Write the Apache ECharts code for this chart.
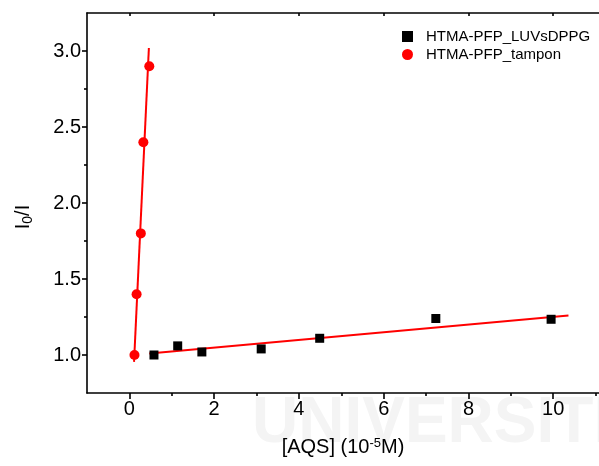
<!DOCTYPE html>
<html><head><meta charset="utf-8">
<script src="https://cdn.jsdelivr.net/npm/echarts@6/dist/echarts.min.js"></script>
<style>html,body{margin:0;padding:0;background:#fff}#c{width:599px;height:466px}</style>
</head><body><div id="c"></div>
<script>
const luvName = 'HTMA-PFP_LUVsDPPG';
const tamponName = 'HTMA-PFP_tampon';
const luvX = [0.58, 1.14, 1.71, 3.11, 4.49, 7.23, 9.95];
const luvY = [1.00, 1.06, 1.02, 1.04, 1.11, 1.24, 1.235];
const tamponX = [0.12, 0.17, 0.27, 0.33, 0.47];
const tamponY = [1.00, 1.40, 1.80, 2.40, 2.90];
const luvFitX = [0.47, 10.36];
const luvFitY = [1.01, 1.26];
const tamponFitX = [0.11, 0.46];
const tamponFitY = [0.955, 3.02];
const xMajorTicks = [0, 2, 4, 6, 8, 10];
const xMinorTicks = [1, 3, 5, 7, 9, 11];
const yMajorTicks = [1.0, 1.5, 2.0, 2.5, 3.0];
const yMinorTicks = [1.25, 1.75, 2.25, 2.75];

const zip = (xs, ys) => xs.map((x, i) => [x, ys[i]]);
const FONT = 'Liberation Sans, Arial, sans-serif';
const chart = echarts.init(document.getElementById('c'), null, {renderer: 'canvas'});
const X_MIN = -1, X_MAX = 11.08, Y_MIN = 0.75, Y_MAX = 3.25;
const lineStyle = {color: '#000', width: 1.6};

chart.setOption({
  animation: false,
  backgroundColor: '#fff',
  textStyle: {fontFamily: FONT},
  graphic: [{
    type: 'text', left: 252, top: 392, z: -10, silent: true,
    style: {text: 'UNIVERSITI', font: 'bold 64px Liberation Sans, Arial, sans-serif', fill: '#f4f4f4'}
  }],
  grid: {left: 87, top: 13, right: 0, bottom: 73, containLabel: false},
  legend: {
    orient: 'vertical', left: 397, top: 24, itemGap: 3,
    itemWidth: 11, itemHeight: 11,
    textStyle: {fontSize: 15, color: '#000', fontFamily: FONT, padding: [0, 0, 0, 8]},
    data: [{name: luvName, icon: 'rect'}, {name: tamponName, icon: 'circle'}]
  },
  xAxis: [
    {
      type: 'value', min: X_MIN, max: X_MAX, position: 'bottom',
      axisLine: {show: true, onZero: false, lineStyle},
      splitLine: {show: false},
      axisTick: {show: true, length: 6, lineStyle, customValues: xMajorTicks},
      axisLabel: {customValues: xMajorTicks, fontSize: 20, color: '#000', margin: 6, fontFamily: FONT},
      name: '{t|[AQS] (10}{s|-5}{t|M)}', nameLocation: 'middle', nameGap: 44,
      nameTextStyle: {rich: {
        t: {fontSize: 20, color: '#000', fontFamily: FONT},
        s: {fontSize: 13, color: '#000', fontFamily: FONT, verticalAlign: 'top', padding: [0, 0, 8, 0]}
      }}
    },
    {
      type: 'value', min: X_MIN, max: X_MAX, position: 'bottom',
      axisLine: {show: false, onZero: false},
      splitLine: {show: false},
      axisTick: {show: true, length: 3, lineStyle, customValues: xMinorTicks},
      axisLabel: {show: false}
    },
    {
      type: 'value', min: X_MIN, max: X_MAX, position: 'top',
      axisLine: {show: true, onZero: false, lineStyle},
      splitLine: {show: false},
      axisTick: {show: true, inside: true, length: 3, lineStyle, customValues: xMajorTicks},
      axisLabel: {show: false}
    }
  ],
  yAxis: [
    {
      type: 'value', min: Y_MIN, max: Y_MAX, position: 'left',
      axisLine: {show: true, onZero: false, lineStyle},
      splitLine: {show: false},
      axisTick: {show: true, length: 5, lineStyle, customValues: yMajorTicks},
      axisLabel: {customValues: yMajorTicks, fontSize: 20, color: '#000', margin: 6, fontFamily: FONT,
        formatter: v => v.toFixed(1)},
      name: '{t|I}{s|0}{t|/I}', nameLocation: 'middle', nameGap: 52,
      nameTextStyle: {padding: [0, 28, 0, 0], rich: {
        t: {fontSize: 20, color: '#000', fontFamily: FONT},
        s: {fontSize: 14, color: '#000', fontFamily: FONT, padding: [10, 0, 0, 0]}
      }}
    },
    {
      type: 'value', min: Y_MIN, max: Y_MAX, position: 'left',
      axisLine: {show: false, onZero: false},
      splitLine: {show: false},
      axisTick: {show: true, length: 3, lineStyle, customValues: yMinorTicks},
      axisLabel: {show: false}
    }
  ],
  series: [
    {
      name: luvName + ' fit', type: 'line', data: zip(luvFitX, luvFitY),
      showSymbol: false, symbol: 'none', lineStyle: {color: '#ff0000', width: 2}, z: 2
    },
    {
      name: tamponName + ' fit', type: 'line', data: zip(tamponFitX, tamponFitY),
      showSymbol: false, symbol: 'none', lineStyle: {color: '#ff0000', width: 2}, z: 2
    },
    {
      name: luvName, type: 'scatter', data: zip(luvX, luvY),
      symbol: 'rect', symbolSize: 9, itemStyle: {color: '#000', opacity: 1}, z: 3
    },
    {
      name: tamponName, type: 'scatter', data: zip(tamponX, tamponY),
      symbol: 'circle', symbolSize: 10, itemStyle: {color: '#ff0000', opacity: 1}, z: 3
    }
  ]
});
</script>
</body></html>
